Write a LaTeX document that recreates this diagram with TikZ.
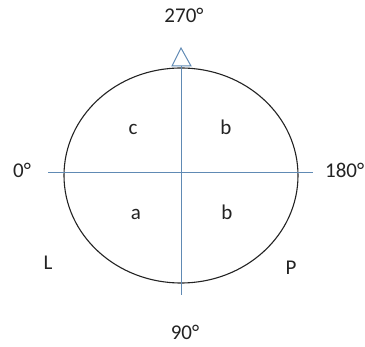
\documentclass[tikz,border=0pt]{standalone}
\usepackage{fontspec}
\setmainfont{Carlito}
\usetikzlibrary{shapes.geometric}

\definecolor{axisblue}{RGB}{96,138,180}
\definecolor{inkgray}{RGB}{35,35,35}

\begin{document}
\begin{tikzpicture}[
  x=1pt, y=-1pt,
  lbl/.style={anchor=base,text=inkgray,font=\fontsize{21}{24}\selectfont,inner sep=0pt},
  ring/.style={draw=inkgray,line width=1.1pt,ellipse,minimum width=234pt,minimum height=215pt,inner sep=0pt},
  axis/.style={draw=axisblue,line width=1pt}
]
\useasboundingbox (0,0) rectangle (365,347);
\node[ring] (dial) at (181,175.5) {};
% axis ends
\coordinate (west) at (48,173);
\coordinate (east) at (313,173);
\coordinate (tip) at (181,48);
\coordinate (tipl) at (172,66);
\coordinate (tipr) at (191,66);
\coordinate (base) at (181,66);
\coordinate (south) at (181,295);
\draw[axis] (west) -- (east);
\draw[axis] (base) -- (south);
\draw[axis,line join=miter] (tipl) -- (tip) -- (tipr) -- cycle;
% angle labels
\node[lbl] (deg270) at (184,23) {270°};
\node[lbl] (deg0) at (22,178) {0°};
\node[lbl,anchor=base west] (deg180) at (325,178) {180°};
\node[lbl] (deg90) at (185,340) {90°};
% quadrant labels
\node[lbl] (qc) at (133,135) {c};
\node[lbl] (qb1) at (226,135) {b};
\node[lbl] (qa) at (136,220) {a};
\node[lbl] (qb2) at (227,220) {b};
\node[lbl] (sideL) at (48,270) {L};
\node[lbl] (sideP) at (291,275) {P};
\end{tikzpicture}
\end{document}
